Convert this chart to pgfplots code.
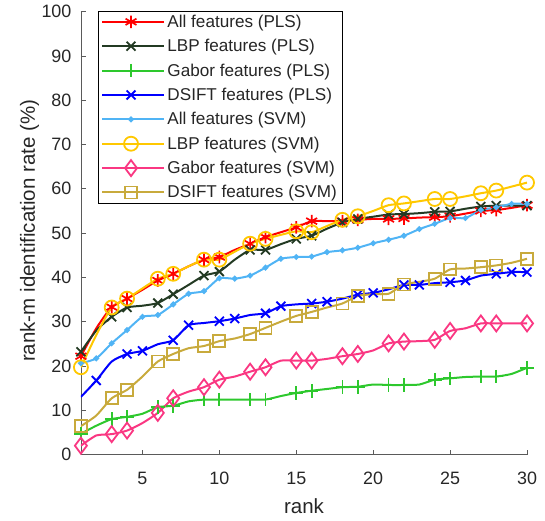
\documentclass[border=0pt]{standalone}
\usepackage{fontspec}
\setmainfont{Liberation Sans}
\usepackage{pgfplots}
\usepackage{pgfplotstable}
\pgfplotsset{compat=1.18}

\definecolor{cRed}{RGB}{255,0,0}
\definecolor{cDkGreen}{RGB}{35,58,35}
\definecolor{cGreen}{RGB}{45,200,45}
\definecolor{cBlue}{RGB}{0,0,255}
\definecolor{cLtBlue}{RGB}{80,180,245}
\definecolor{cYellow}{RGB}{255,200,0}
\definecolor{cPink}{RGB}{250,55,130}
\definecolor{cOlive}{RGB}{200,170,60}
\definecolor{cAxis}{RGB}{90,90,90}
\definecolor{cText}{RGB}{38,38,38}

\pgfplotstableread{
x  allpls lbppls gabpls dsipls allsvm lbpsvm gabsvm dsisvm
1  22.2   23.2   4.7    13.0   20.6   19.7   2.0    6.4
2  28.5   28.0   6.5    16.7   21.7   27.0   4.3    8.8
3  33.3   31.1   8.0    21.0   25.1   33.2   4.6    12.7
4  35.2   33.2   8.5    22.7   28.1   35.2   5.4    14.6
5  37.2   33.6   9.2    23.4   31.1   37.5   7.1    17.6
6  39.3   34.2   10.7   24.9   31.5   39.7   9.4    21.0
7  40.8   36.2   11.0   25.8   33.9   40.8   12.7   22.7
8  42.5   38.3   12.0   29.2   36.3   42.5   14.2   24.0
9  44.0   40.4   12.4   29.7   36.9   44.0   15.2   24.5
10 44.6   41.3   12.4   30.1   39.8   44.0   16.9   25.6
11 46.2   44.0   12.4   30.7   39.7   45.8   17.6   26.2
12 47.6   46.2   12.4   31.5   40.4   47.6   18.7   27.2
13 49.1   46.2   12.4   31.9   42.2   48.7   19.7   28.6
14 50.2   47.5   13.2   33.5   44.2   49.6   21.2   30.0
15 51.3   48.7   13.9   33.9   44.6   50.4   21.2   31.3
16 52.7   49.4   14.4   34.1   44.7   50.2   21.2   32.2
17 52.7   51.0   14.8   34.5   45.7   51.6   21.6   33.2
18 52.7   52.4   15.2   35.2   46.1   53.0   22.2   34.1
19 53.0   53.2   15.3   36.1   46.7   53.8   22.7   35.8
20 53.2   53.7   15.8   36.5   47.7   55.0   23.5   36.2
21 53.2   54.2   15.7   37.3   48.5   56.3   25.1   36.3
22 53.3   54.3   15.7   38.3   49.4   56.7   25.5   38.4
23 53.5   54.5   15.8   38.3   50.9   57.2   25.6   39.0
24 53.6   54.8   16.9   38.7   52.1   57.7   25.9   39.7
25 53.8   54.9   17.2   38.9   53.4   57.7   27.9   41.8
26 54.4   55.5   17.5   39.3   53.4   58.3   28.5   42.0
27 55.0   56.0   17.6   40.4   55.2   59.0   29.6   42.3
28 55.2   56.2   17.6   40.8   55.8   59.6   29.6   42.7
29 55.7   56.2   18.2   41.2   56.6   60.5   29.6   43.3
30 56.3   56.2   19.6   41.2   56.6   61.4   29.6   44.2
}\datatable

\begin{document}
\begin{tikzpicture}
\begin{axis}[
  name=ax,
  scale only axis,
  width=446.6bp, height=443.3bp,
  xmin=1, xmax=30, ymin=0, ymax=100,
  axis lines=left,
  axis line style={-, cAxis, line width=0.8bp},
  tick align=inside,
  major tick length=5bp,
  tick style={cAxis, line width=0.8bp},
  xtick={5,10,...,30},
  ytick={0,10,...,100},
  /pgf/number format/assume math mode=true,
  tick label style={font=\fontsize{18}{21.6}\selectfont, text=cText},
  xticklabel style={anchor=base, yshift=-30.5bp},
  yticklabel style={anchor=east, inner sep=0pt, xshift=-9.3bp},
  xlabel={rank},
  ylabel={rank-m identification rate (\%)},
  every axis x label/.style={at={(axis description cs:0.5,-0.1331)}, anchor=base,
    font=\fontsize{20.6}{24.7}\selectfont, text=cText},
  every axis y label/.style={at={(axis description cs:-0.103,0.505)}, anchor=base, rotate=90,
    font=\fontsize{20.6}{24.7}\selectfont, text=cText},
  every axis plot/.append style={line width=2bp, smooth, tension=0.35},
  legend cell align=left,
  legend style={
    at={(rel axis cs:0.038,1.0023)}, anchor=north west,
    font=\fontsize{17.2}{20.6}\selectfont,
    draw=black, fill=white,
    inner xsep=3bp, inner ysep=2bp,
    row sep=6.5bp,
    nodes={inner xsep=2.5bp, inner ysep=2bp, text=cText},
  },
  legend image code/.code={\path (0bp,0bp) -- (62bp,0bp);\draw[#1, line width=2bp, mark indices={2}] plot coordinates {(0bp,0bp) (29bp,0bp) (58bp,0bp)};},
]
\addplot[color=cRed, mark=asterisk, mark size=6.3bp, mark options={solid, line width=1.7bp},
  mark indices={1,3,4,6,7,9,10,12,13,15,16,18,19,21,22,24,25,27,28,30}]
  table[x=x, y=allpls]{\datatable};
\addlegendentry{All features (PLS)}
\addplot[color=cDkGreen, mark=x, mark size=6.3bp, mark options={solid, line width=1.8bp},
  mark indices={1,3,4,6,7,9,10,12,13,15,16,18,19,21,22,24,25,27,28,30}]
  table[x=x, y=lbppls]{\datatable};
\addlegendentry{LBP features (PLS)}
\addplot[color=cGreen, mark=+, mark size=6.8bp, mark options={solid, line width=1.8bp},
  mark indices={1,3,4,6,7,9,10,12,13,15,16,18,19,21,22,24,25,27,28,30}]
  table[x=x, y=gabpls]{\datatable};
\addlegendentry{Gabor features (PLS)}
\addplot[color=cBlue, mark=x, mark size=6.3bp, mark options={solid, line width=1.8bp},
  mark indices={2,4,5,7,8,10,11,13,14,16,17,19,20,22,23,25,26,28,29,30}]
  table[x=x, y=dsipls]{\datatable};
\addlegendentry{DSIFT features (PLS)}
\addplot[color=cLtBlue, mark=*, mark size=1.8bp, mark options={solid}]
  table[x=x, y=allsvm]{\datatable};
\addlegendentry{All features (SVM)}
\addplot[color=cYellow, mark=o, mark size=7bp, mark options={solid, line width=1.8bp},
  mark indices={1,3,4,6,7,9,10,12,13,15,16,18,19,21,22,24,25,27,28,30}]
  table[x=x, y=lbpsvm]{\datatable};
\addlegendentry{LBP features (SVM)}
\addplot[color=cPink, mark=diamond, mark size=8bp, mark options={solid, line width=1.8bp},
  mark indices={1,3,4,6,7,9,10,12,13,15,16,18,19,21,22,24,25,27,28,30}]
  table[x=x, y=gabsvm]{\datatable};
\addlegendentry{Gabor features (SVM)}
\addplot[color=cOlive, mark=square, mark size=6bp, mark options={solid, line width=1.8bp},
  mark indices={1,3,4,6,7,9,10,12,13,15,16,18,19,21,22,24,25,27,28,30}]
  table[x=x, y=dsisvm]{\datatable};
\addlegendentry{DSIFT features (SVM)}
\end{axis}
\path (ax.south west) ++(-81bp,-66bp) coordinate (bbA);
\path (ax.north east) ++(18bp,11.7bp) coordinate (bbB);
\pgfresetboundingbox
\path[use as bounding box] (bbA) rectangle (bbB);
\end{tikzpicture}
\end{document}
